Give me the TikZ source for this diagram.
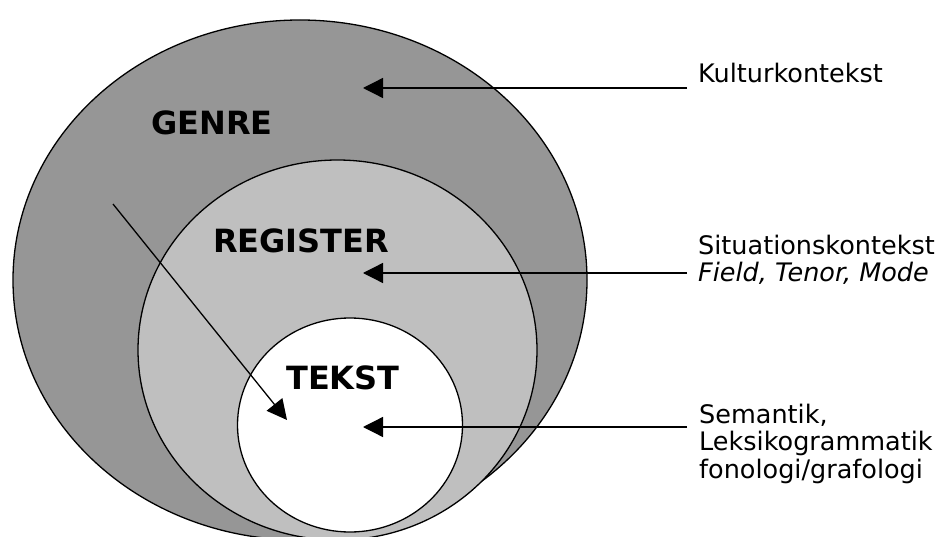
\documentclass[tikz,border=0pt]{standalone}
\usepackage{fontspec}
\setmainfont{DejaVu Sans}
\usetikzlibrary{arrows.meta}

\begin{document}
\begin{tikzpicture}[x=1pt,y=-1pt]
            \useasboundingbox (0,0) rectangle (950,537);
            \clip (0,0) rectangle (950,537);
            \begin{scope}[line width=1.3pt]
                \draw[fill=black!41] (300,280) ellipse [x radius=287, y radius=260];
                \draw[fill=black!25] (337.5,350) ellipse [x radius=199.5, y radius=190];
                \draw[fill=white] (350,425) ellipse [x radius=112.5, y radius=107];
            \end{scope}
            \begin{scope}[every node/.style={font=\fontsize{32}{36}\selectfont\bfseries, anchor=base west, inner sep=0pt}]
                \node (genre) at (151,135) {GENRE};
                \node (register) at (213,253) {REGISTER};
                \node (tekst) at (286,389) {TEKST};
            \end{scope}
            \begin{scope}[every node/.style={font=\fontsize{25.5}{27.5}\selectfont, anchor=base west, inner sep=0pt, align=left}]
                \node (kultur) at (698,83) {Kulturkontekst};
                \node (situation) at (698,282) {Situationskontekst\\\textit{Field, Tenor, Mode}};
                \node (semantik) at (699,478) {Semantik,\\Leksikogrammatik\\fonologi/grafologi};
            \end{scope}
            \coordinate (k1) at (687,88);
            \coordinate (k2) at (363,88);
            \coordinate (s1) at (687,273);
            \coordinate (s2) at (363,273);
            \coordinate (f1) at (687,427);
            \coordinate (f2) at (363,427);
            \coordinate (d1) at (113,204);
            \coordinate (d2) at (287,420);
            \begin{scope}[every edge/.style={draw, line width=1.3pt, -{Triangle[length=20pt,width=20pt]}}]
                \path (k1) edge (k2);
                \path (s1) edge (s2);
                \path (f1) edge (f2);
                \path (d1) edge (d2);
            \end{scope}
        \end{tikzpicture}
\end{document}
